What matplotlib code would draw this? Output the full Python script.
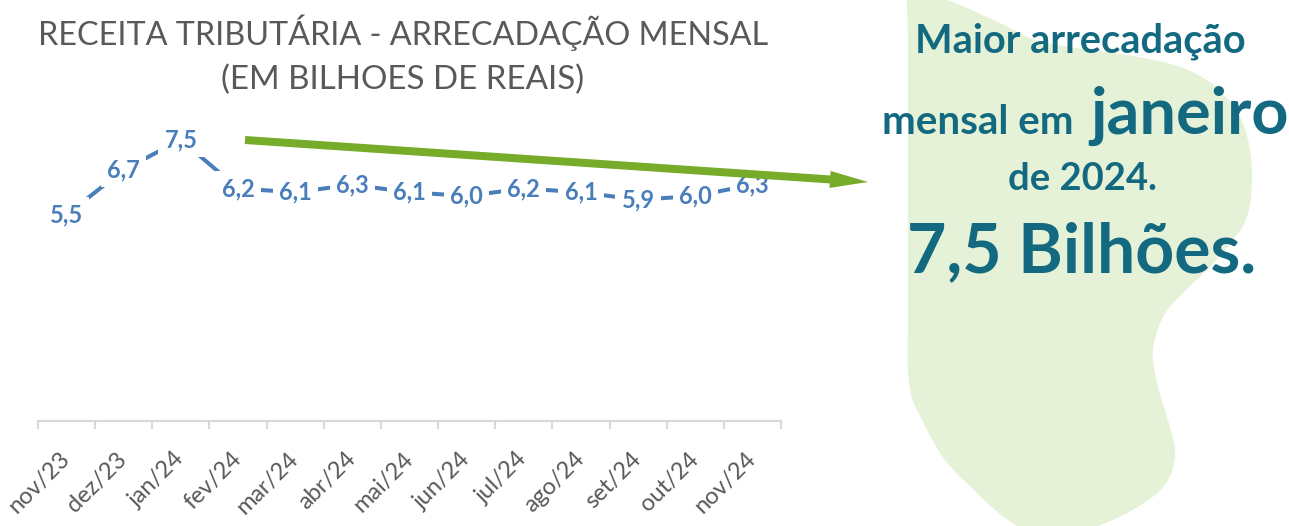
import numpy as np
import matplotlib
matplotlib.use("Agg")
import matplotlib.pyplot as plt
from matplotlib.patches import Polygon, FancyArrow

# ---- data ----
months = ["nov/23", "dez/23", "jan/24", "fev/24", "mar/24", "abr/24", "mai/24",
          "jun/24", "jul/24", "ago/24", "set/24", "out/24", "nov/24"]
values = [5.5, 6.7, 7.5, 6.2, 6.1, 6.3, 6.1, 6.0, 6.2, 6.1, 5.9, 6.0, 6.3]
title_lines = ["RECEITA TRIBUTÁRIA - ARRECADAÇÃO MENSAL", "(EM BILHOES DE REAIS)"]

W, H = 1289, 526
fig = plt.figure(figsize=(W / 100, H / 100), dpi=100)
fig.patch.set_facecolor("white")

BLUE = "#4a7ebb"
TEAL = "#136a80"
GREEN = "#76ac2a"
BLOB = "#e5f2d8"
GRAY = "#595959"
AXG = "#d9d9d9"

# background axes (pixel coordinates) for decorative blob
ax_bg = fig.add_axes([0, 0, 1, 1], zorder=0)
ax_bg.set_xlim(0, W); ax_bg.set_ylim(H, 0); ax_bg.axis("off")


def catmull(pts, n=24):
    pts = np.asarray(pts, float)
    N = len(pts)
    out = []
    t = np.linspace(0, 1, n, endpoint=False)[:, None]
    for i in range(N):
        p0, p1, p2, p3 = pts[(i - 1) % N], pts[i], pts[(i + 1) % N], pts[(i + 2) % N]
        out.append(0.5 * ((2 * p1) + (-p0 + p2) * t + (2 * p0 - 5 * p1 + 4 * p2 - p3) * t ** 2
                          + (-p0 + 3 * p1 - 3 * p2 + p3) * t ** 3))
    return np.vstack(out)


blob_ctrl = [(908, -12), (925, -8), (960, 5), (1000, 23), (1043, 42), (1133, 56), (1183, 68),
             (1217, 88), (1240, 117), (1250, 150), (1252, 183), (1247, 217), (1233, 240),
             (1210, 267), (1183, 293), (1163, 317), (1153, 350), (1157, 383), (1167, 417),
             (1175, 450), (1170, 476), (1155, 495), (1127, 513), (1093, 528), (1060, 540),
             (1025, 530), (1000, 514), (977, 493), (945, 460), (922, 420), (909, 383),
             (908, 300), (908, 150), (908, 40)]
ax_bg.add_patch(Polygon(catmull(blob_ctrl), closed=True, fc=BLOB, ec="none"))

# chart axes
left, right_px, base_px = 38, 781, 421
ymax = 9.0
px_per_unit = 37.5
ax = fig.add_axes([left / W, (H - base_px) / H, (right_px - left) / W, ymax * px_per_unit / H], zorder=1)
ax.set_facecolor("none")
x = np.arange(len(values))
ax.plot(x, values, color=BLUE, lw=2.9, solid_capstyle="butt", zorder=2)
for xi, v in zip(x, values):
    ax.text(xi, v, f"{v:.1f}".replace(".", ","), ha="center", va="center",
            fontsize=17, fontweight="bold", family="Lato", color=BLUE, zorder=3,
            bbox=dict(boxstyle="square,pad=0.26", fc="white", ec="none"))
ax.set_xlim(-0.5, len(values) - 0.5)
ax.set_ylim(0, ymax)
for s in ["top", "right", "left"]:
    ax.spines[s].set_visible(False)
ax.spines["bottom"].set_color(AXG)
ax.spines["bottom"].set_linewidth(1.5)
ax.set_yticks([])
ax.set_xticks(x)
ax.set_xticklabels(months, rotation=45, ha="right", va="center", rotation_mode="anchor",
                   fontsize=17, family="Lato", color=GRAY)
ax.set_xticks(np.arange(len(values) + 1) - 0.5, minor=True)
ax.tick_params(axis="x", which="major", length=0, pad=25)
ax.tick_params(axis="x", which="minor", length=5.8, width=1.5, color=AXG)

# overlay axes for annotations
ax_top = fig.add_axes([0, 0, 1, 1], zorder=3)
ax_top.set_xlim(0, W); ax_top.set_ylim(H, 0); ax_top.axis("off")
ax_top.patch.set_alpha(0)

renderer = fig.canvas.get_renderer()


def fit_text(txt, x0, x1, baseline, color, weight="normal", family="Lato", ha="left"):
    t = ax_top.text(x0 if ha == "left" else (x0 + x1) / 2, baseline, txt, ha=ha, va="baseline",
                    fontsize=20, fontweight=weight, family=family, color=color)
    w = t.get_window_extent(renderer).width
    t.set_fontsize(20 * (x1 - x0) / w)
    return t


# title
fit_text(title_lines[0], 38, 768, 45, GRAY, ha="center")
fit_text(title_lines[1], 222, 584, 89, GRAY, ha="center")

# arrow
ax_top.add_patch(FancyArrow(245, 140, 623, 42, width=8, head_width=17, head_length=38,
                            length_includes_head=True, color=GREEN, lw=0))

# right-hand text
fit_text("Maior arrecadação", 915, 1245, 53, TEAL, weight="bold")
fit_text("mensal em", 882, 1073, 134, TEAL, weight="bold")
fit_text("janeiro", 1090, 1288, 134, TEAL, weight="bold")
fit_text("de 2024.", 1008, 1157, 190, TEAL, weight="bold")
fit_text("7,5 Bilhões.", 907, 1258, 272, TEAL, weight="bold")

fig.savefig("out.png", dpi=100)
